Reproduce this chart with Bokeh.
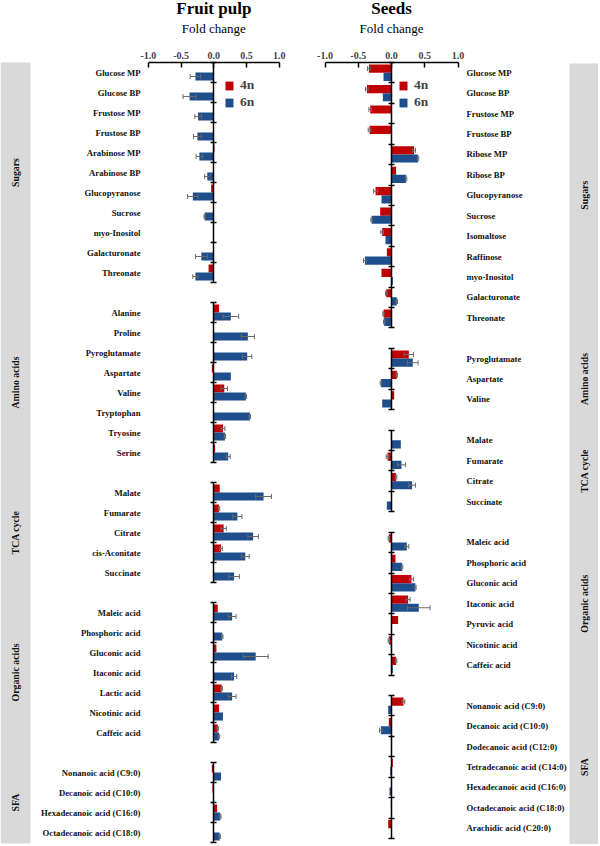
import math
from bokeh.plotting import figure
from bokeh.models import (Range1d, LinearAxis, FixedTicker, NumeralTickFormatter,
                          CustomJSTickFormatter, ColumnDataSource, Whisker, TeeHead,
                          Legend, LegendItem)
from bokeh.layouts import row
from bokeh.core.properties import value
from bokeh.embed import file_html
from bokeh.resources import INLINE

# ---------------- data ----------------
xticks = [-1.0, -0.5, 0.0, 0.5, 1.0]
series_names = ["4n", "6n"]

pulp_groups = ["Sugars", "Amino acids", "TCA cycle", "Organic acids", "SFA"]
pulp_group_sizes = [11, 8, 5, 7, 4]
pulp_metabolites = [
    "Glucose MP", "Glucose BP", "Frustose MP", "Frustose BP", "Arabinose MP",
    "Arabinose BP", "Glucopyranose", "Sucrose", "myo-Inositol", "Galacturonate", "Threonate",
    "Alanine", "Proline", "Pyroglutamate", "Aspartate", "Valine", "Tryptophan", "Tryosine", "Serine",
    "Malate", "Fumarate", "Citrate", "cis-Aconitate", "Succinate",
    "Maleic acid", "Phosphoric acid", "Gluconic acid", "Itaconic acid", "Lactic acid",
    "Nicotinic acid", "Caffeic acid",
    "Nonanoic acid (C9:0)", "Decanoic acid (C10:0)", "Hexadecanoic acid (C16:0)",
    "Octadecanoic acid (C18:0)",
]
pulp_4n = [0.0, 0.0, 0.0, 0.0, 0.01, 0.0, -0.04, 0.0, 0.0, 0.0, -0.08,
           0.08, -0.01, 0.0, -0.03, 0.16, 0.0, 0.14, 0.02,
           0.09, 0.08, 0.15, 0.11, 0.0,
           0.06, -0.01, 0.04, 0.0, 0.12, 0.08, 0.06,
           -0.03, -0.02, 0.05, 0.0]
pulp_4n_err = [0, 0, 0, 0, 0, 0, 0, 0, 0, 0, 0,
               0, 0, 0, 0, 0.05, 0, 0.03, 0,
               0, 0.01, 0.04, 0.02, 0,
               0, 0, 0, 0, 0.01, 0, 0.01,
               0, 0, 0, 0]
pulp_6n = [-0.28, -0.37, -0.24, -0.25, -0.22, -0.10, -0.32, -0.14, 0.0, -0.19, -0.28,
           0.26, 0.52, 0.51, 0.26, 0.49, 0.55, 0.17, 0.22,
           0.76, 0.36, 0.60, 0.48, 0.31,
           0.28, 0.13, 0.64, 0.31, 0.28, 0.14, 0.08,
           0.11, 0.0, 0.10, 0.09]
pulp_6n_err = [0.08, 0.10, 0.05, 0.06, 0.05, 0.04, 0.08, 0.01, 0, 0.09, 0.04,
               0.12, 0.10, 0.07, 0, 0.01, 0.01, 0.01, 0.03,
               0.12, 0.07, 0.08, 0.06, 0.08,
               0.06, 0.01, 0.19, 0.04, 0.06, 0, 0.01,
               0, 0, 0.01, 0.01]

seeds_groups = ["Sugars", "Amino acids", "TCA cycle", "Organic acids", "SFA"]
seeds_group_sizes = [13, 3, 4, 7, 7]
seeds_metabolites = [
    "Glucose MP", "Glucose BP", "Frustose MP", "Frustose BP", "Ribose MP", "Ribose BP",
    "Glucopyranose", "Sucrose", "Isomaltose", "Raffinose", "myo-Inositol", "Galacturonate",
    "Threonate",
    "Pyroglutamate", "Aspartate", "Valine",
    "Malate", "Fumarate", "Citrate", "Succinate",
    "Maleic acid", "Phosphoric acid", "Gluconic acid", "Itaconic acid", "Pyruvic acid",
    "Nicotinic acid", "Caffeic acid",
    "Nonanoic acid (C9:0)", "Decanoic acid (C10:0)", "Dodecanoic acid (C12:0)",
    "Tetradecanoic acid (C14:0)", "Hexadecanoic acid (C16:0)", "Octadecanoic acid (C18:0)",
    "Arachidic acid (C20:0)",
]
seeds_4n = [-0.34, -0.37, -0.32, -0.33, 0.34, 0.07, -0.24, -0.17, -0.14, -0.07, -0.15, -0.08, -0.12,
            0.26, 0.08, 0.04,
            -0.01, -0.06, 0.07, 0.0,
            -0.04, 0.06, 0.30, 0.25, 0.10, -0.04, 0.07,
            0.18, -0.04, 0.0, 0.02, 0.0, -0.01, -0.05]
seeds_4n_err = [0.02, 0.02, 0.02, 0.02, 0.02, 0, 0.03, 0, 0.02, 0, 0, 0.01, 0.01,
                0.07, 0.01, 0,
                0, 0.02, 0.01, 0,
                0.01, 0, 0.03, 0.03, 0, 0.01, 0.01,
                0.02, 0, 0, 0, 0, 0, 0]
seeds_6n = [-0.12, -0.13, 0.0, 0.0, 0.40, 0.22, -0.15, -0.30, -0.09, -0.40, 0.02, 0.08, -0.11,
            0.32, -0.16, -0.14,
            0.14, 0.15, 0.31, -0.07,
            0.23, 0.16, 0.36, 0.41, 0.0, -0.01, 0.02,
            -0.05, -0.16, 0.0, -0.02, -0.03, 0.0, 0.0]
seeds_6n_err = [0, 0, 0, 0, 0.01, 0.01, 0, 0.01, 0, 0.02, 0, 0.01, 0.01,
                0.08, 0.01, 0,
                0, 0.06, 0.05, 0,
                0.03, 0.01, 0.01, 0.17, 0, 0, 0,
                0, 0.02, 0, 0, 0, 0, 0]

# ---------------- styling / layout ----------------
RED = "#c00000"
BLUE = "#1f4e8c"
STRIP = "#d9d9d9"
ERR = "#6a6a6a"
FONT = "Liberation Serif"

FIG_H = 844   # page height used (reference pixels, 1:1)


def px(v):
    return f"{v:.2f}px"


def slot_layout(sizes):
    centers, bounds = [], []
    pos = 0
    for n in sizes:
        centers.extend(range(pos, pos + n))
        bounds.append((pos - 0.5, pos + n - 0.5))
        pos += n + 1
    return centers, bounds


def build_panel(cfg, title, groups, sizes, names, v4, e4, v6, e6):
    def X(p):
        return (p - cfg["zero_px"]) / cfg["unit_px"]

    def Y(p):
        return (p - cfg["top_px"]) / cfg["slot_px"] - 0.5

    fig_w = cfg["x1"] - cfg["x0"]

    p = figure(width=fig_w, height=FIG_H,
               x_range=Range1d(X(cfg["x0"]), X(cfg["x1"])),
               y_range=Range1d(Y(FIG_H), Y(0)),
               x_axis_type=None, y_axis_type=None,
               output_backend="svg", toolbar_location=None, min_border=0)
    p.outline_line_color = None
    p.background_fill_color = "white"
    p.border_fill_color = "white"

    centers, bounds = slot_layout(sizes)

    # grey strip with group names
    p.quad(left=[X(cfg["strip"][0])], right=[X(cfg["strip"][1])],
           top=[Y(cfg["strip_y"][0])], bottom=[Y(cfg["strip_y"][1])],
           fill_color=STRIP, line_color=None)
    gcent = [(b0 + b1) / 2 for b0, b1 in bounds]
    p.text(x=[X((cfg["strip"][0] + cfg["strip"][1]) / 2)] * len(groups), y=gcent, text=groups,
           angle=math.pi / 2, text_align="center", text_baseline="middle",
           text_font=value(FONT), text_font_style="bold", text_font_size=px(9.8),
           text_color="#111111")

    # bars
    src = ColumnDataSource(dict(
        y4=[c - 0.2 for c in centers], y6=[c + 0.2 for c in centers],
        v4=v4, v6=v6))
    r4 = p.hbar(y="y4", left=0, right="v4", height=0.4, fill_color=RED, line_color=None, source=src)
    r6 = p.hbar(y="y6", left=0, right="v6", height=0.4, fill_color=BLUE, line_color=None, source=src)

    # error bars
    for ys, vs, es in ((src.data["y4"], v4, e4), (src.data["y6"], v6, e6)):
        b = [y for y, e in zip(ys, es) if e > 0]
        lo = [v - e for v, e in zip(vs, es) if e > 0]
        hi = [v + e for v, e in zip(vs, es) if e > 0]
        w = Whisker(source=ColumnDataSource(dict(base=b, lower=lo, upper=hi)),
                    base="base", lower="lower", upper="upper", dimension="width",
                    line_color=ERR, line_width=1, level="annotation",
                    upper_head=TeeHead(size=5, line_color=ERR, line_width=1),
                    lower_head=TeeHead(size=5, line_color=ERR, line_width=1))
        p.add_layout(w)

    # top value axis
    xa = LinearAxis(fixed_location=-0.5, bounds=(xticks[0], xticks[-1]),
                    ticker=FixedTicker(ticks=xticks, minor_ticks=[]),
                    formatter=NumeralTickFormatter(format="0.0"),
                    major_tick_in=5, major_tick_out=0, major_label_standoff=4,
                    axis_line_width=1.5, major_tick_line_width=1.5,
                    minor_tick_line_color=None,
                    major_label_text_font=FONT, major_label_text_font_style="bold",
                    major_label_text_font_size=px(10))
    p.add_layout(xa, "above")

    # zero axis, broken between groups
    for b0, b1 in bounds:
        ticks = [b0 + k for k in range(int(round(b1 - b0)) + 1)]
        ya = LinearAxis(fixed_location=0, bounds=(b0, b1),
                        ticker=FixedTicker(ticks=ticks, minor_ticks=[]),
                        formatter=CustomJSTickFormatter(code="return ''"),
                        major_tick_in=3, major_tick_out=3,
                        axis_line_width=1.5, major_tick_line_width=1.5,
                        minor_tick_line_color=None)
        p.add_layout(ya, "left")

    # category labels
    la = LinearAxis(fixed_location=X(cfg["label_px"]),
                    ticker=FixedTicker(ticks=centers, minor_ticks=[]),
                    major_label_overrides={c: n for c, n in zip(centers, names)},
                    axis_line_color=None, major_tick_line_color=None,
                    minor_tick_line_color=None, major_tick_in=0, major_tick_out=0,
                    major_label_standoff=0,
                    major_label_text_font=FONT, major_label_text_font_style="bold",
                    major_label_text_font_size=px(8.7), major_label_text_color="#111111")
    p.add_layout(la, cfg["label_side"])

    # titles
    p.text(x=[0], y=[Y(8)], text=[title], text_align="center", text_baseline="middle",
           text_font=value(FONT), text_font_style="bold", text_font_size=px(17))
    p.text(x=[0], y=[Y(27.5)], text=["Fold change"], text_align="center", text_baseline="middle",
           text_font=value(FONT), text_font_size=px(13))

    # legend
    lx, ly = cfg["legend"]
    leg = Legend(items=[LegendItem(label=series_names[0], renderers=[r4]),
                        LegendItem(label=series_names[1], renderers=[r6])],
                 location=(lx - cfg["x0"], FIG_H - (ly + 31)),
                 orientation="vertical", padding=0, margin=0, spacing=1,
                 glyph_width=10, glyph_height=11, label_standoff=6, label_height=15,
                 label_text_font=FONT, label_text_font_style="bold",
                 label_text_font_size=px(13.5),
                 border_line_color=None, background_fill_alpha=0)
    p.add_layout(leg)
    return p


pulp_cfg = dict(x0=0, x1=300, zero_px=213.3, unit_px=65.5, top_px=62, slot_px=20.0,
                label_px=140, label_side="left", strip=(0, 30), strip_y=(62, 843),
                legend=(224, 79))
seeds_cfg = dict(x0=300, x1=598, zero_px=391, unit_px=66.5, top_px=62, slot_px=776 / 38,
                 label_px=466, label_side="right", strip=(569, 598), strip_y=(63, 845),
                 legend=(398, 79))

p1 = build_panel(pulp_cfg, "Fruit pulp", pulp_groups, pulp_group_sizes, pulp_metabolites,
                 pulp_4n, pulp_4n_err, pulp_6n, pulp_6n_err)
p2 = build_panel(seeds_cfg, "Seeds", seeds_groups, seeds_group_sizes, seeds_metabolites,
                 seeds_4n, seeds_4n_err, seeds_6n, seeds_6n_err)

layout = row(p1, p2, spacing=0)
open("out.html", "w").write(file_html(layout, INLINE))
